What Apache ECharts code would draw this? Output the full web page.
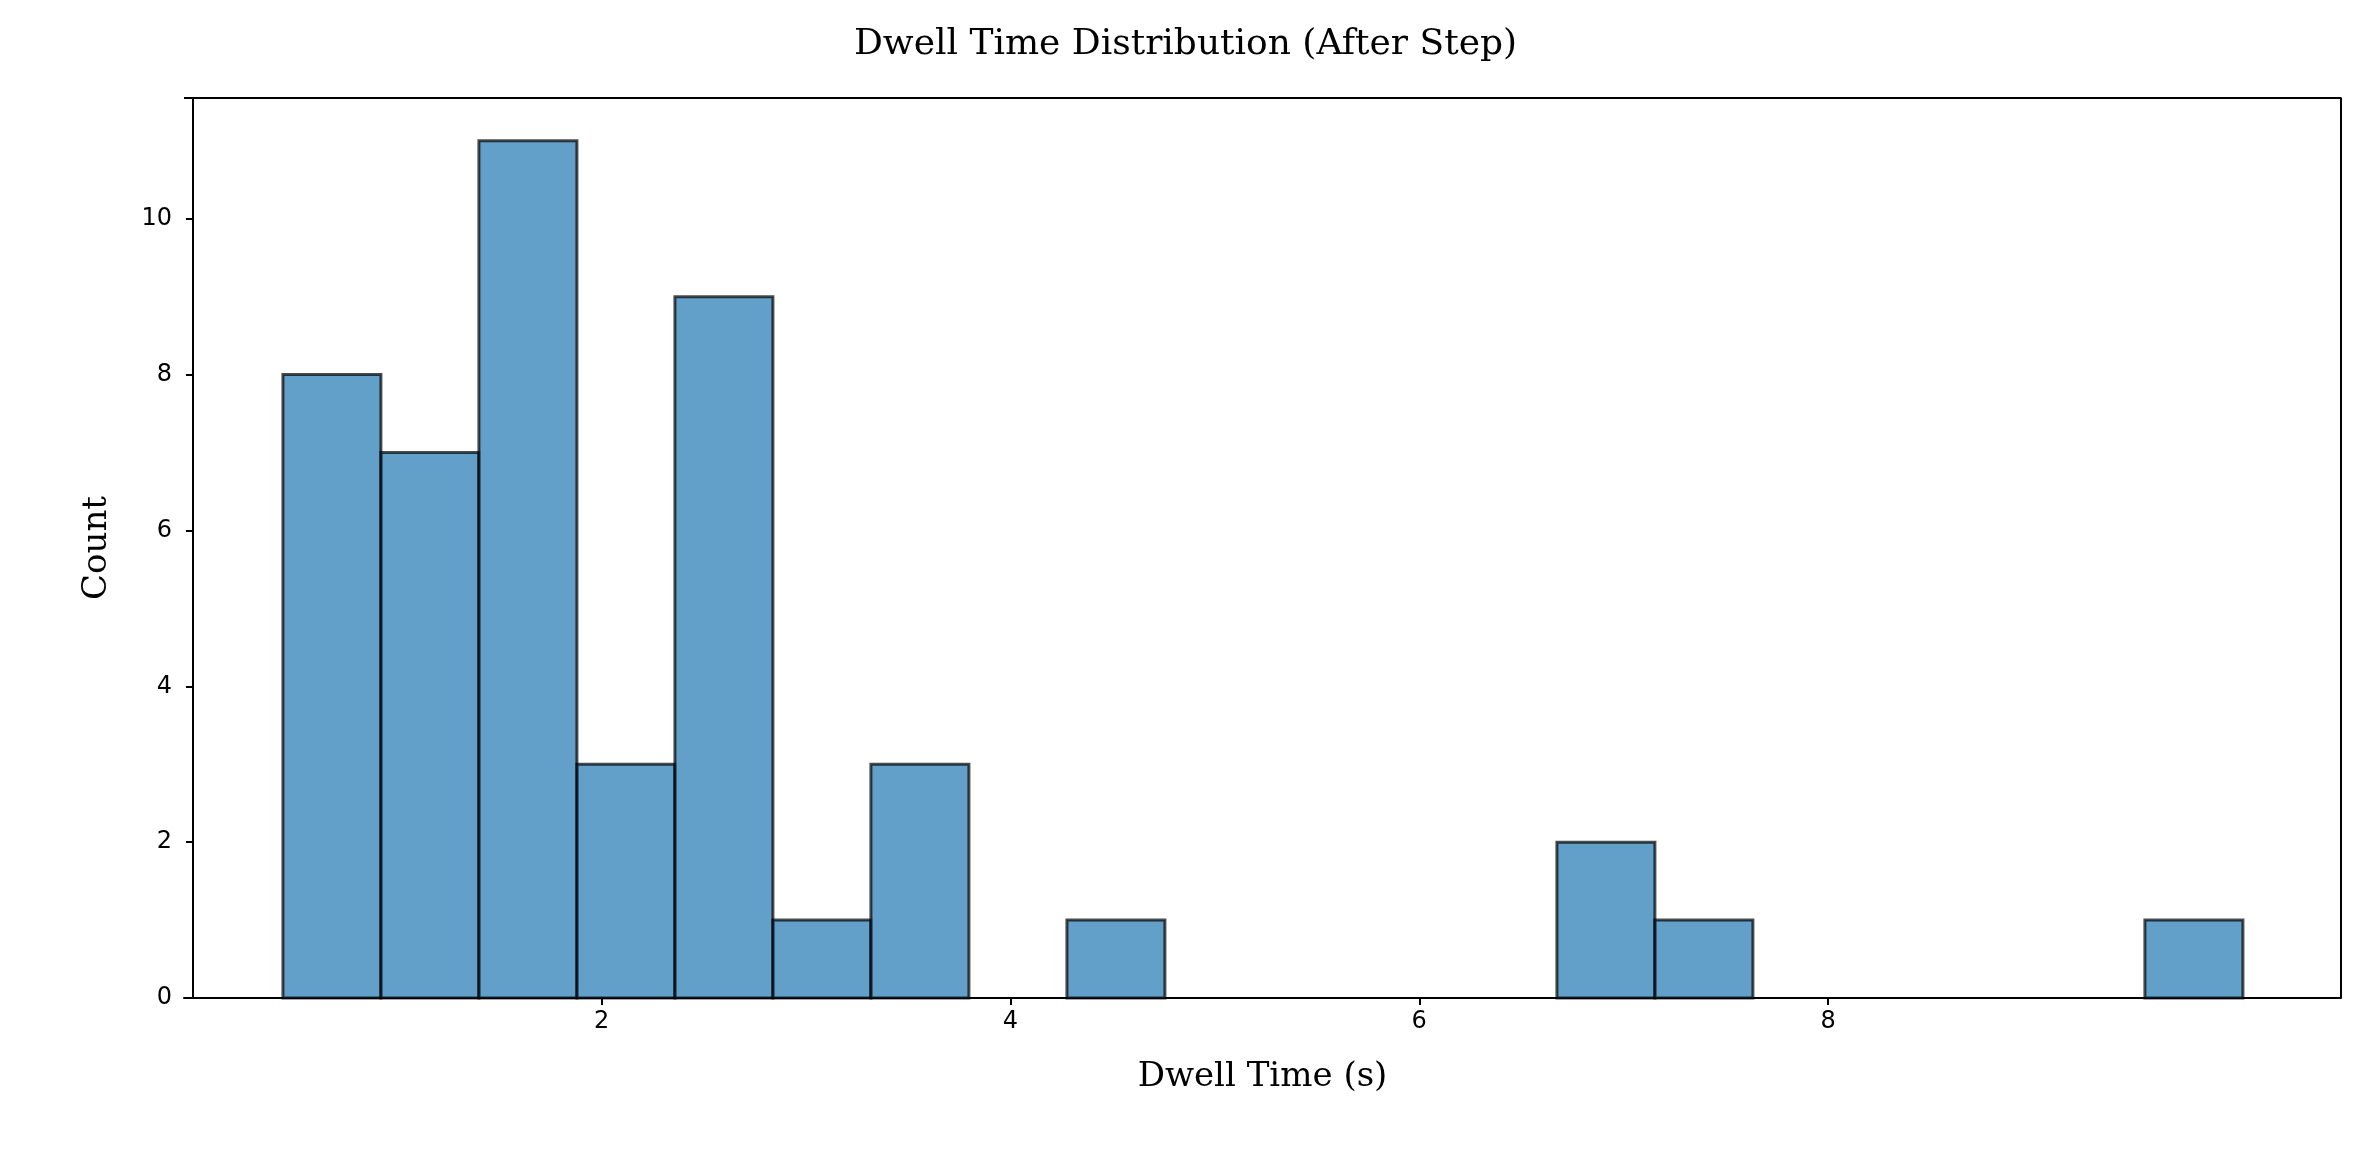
<!DOCTYPE html>
<html>
<head>
<meta charset="utf-8">
<script src="https://cdn.jsdelivr.net/npm/echarts@6/dist/echarts.min.js"></script>
<style>html,body{margin:0;padding:0;background:#fff}#main{width:2371px;height:1171px}</style>
</head>
<body>
<div id="main"></div>
<script>
// 直方图数据
var binStart = 0.44;
var binWidth = 0.4795;
var counts = [8, 7, 11, 3, 9, 1, 3, 0, 1, 0, 0, 0, 0, 2, 1, 0, 0, 0, 0, 1];
var xTicks = [0, 2, 4, 6, 8, 10];
var yTicks = [0, 2, 4, 6, 8, 10];

var bins = counts.map(function (c, i) {
    return [binStart + i * binWidth, binStart + (i + 1) * binWidth, c];
});

var myChart = echarts.init(document.getElementById('main'));
var option = {
    backgroundColor: '#fff',
    animation: false,
    title: {
        text: 'Dwell Time Distribution (After Step)',
        left: 'center', top: 22,
        textStyle: { fontFamily: 'DejaVu Serif', fontWeight: 'normal', fontSize: 36, color: '#000' }
    },
    grid: { left: 184, right: 30, top: 98, bottom: 173 },
    xAxis: {
        type: 'value', min: -0.044, max: 10.51, interval: 2,
        name: 'Dwell Time (s)', nameLocation: 'middle', nameGap: 62,
        nameTextStyle: { fontFamily: 'DejaVu Serif', fontSize: 34, color: '#000' },
        axisLine: { onZero: false, lineStyle: { color: '#000', width: 2 } },
        axisTick: { show: true, length: 7, lineStyle: { color: '#000', width: 2 }, customValues: xTicks },
        axisLabel: { fontFamily: 'DejaVu Sans', fontSize: 24, color: '#000', margin: 12, customValues: xTicks,
            showMinLabel: false, showMaxLabel: false },
        splitLine: { show: false }
    },
    yAxis: {
        type: 'value', min: 0, max: 11.55,
        name: 'Count', nameLocation: 'middle', nameGap: 70,
        nameTextStyle: { fontFamily: 'DejaVu Serif', fontSize: 34, color: '#000' },
        axisLine: { show: true, lineStyle: { color: '#000', width: 2 } },
        axisTick: { show: true, length: 7, lineStyle: { color: '#000', width: 2 }, customValues: yTicks },
        axisLabel: { fontFamily: 'DejaVu Sans', fontSize: 24, color: '#000', margin: 12, customValues: yTicks },
        splitLine: { show: false }
    },
    series: [{
        type: 'custom',
        data: bins,
        renderItem: function (params, api) {
            if (api.value(2) <= 0) return null;
            var p0 = api.coord([api.value(0), 0]);
            var p1 = api.coord([api.value(1), api.value(2)]);
            return {
                type: 'rect',
                shape: { x: p0[0], y: p1[1], width: p1[0] - p0[0], height: p0[1] - p1[1] },
                style: { fill: 'rgba(31,119,180,0.7)', stroke: 'rgba(0,0,0,0.7)', lineWidth: 3 }
            };
        }
    }, {
        // 上边框和右边框
        type: 'line', data: [[-0.044, 11.55], [10.51, 11.55], [10.51, 0]],
        symbol: 'none', silent: true, lineStyle: { color: '#000', width: 2 }
    }]
};
myChart.setOption(option);
</script>
</body>
</html>
